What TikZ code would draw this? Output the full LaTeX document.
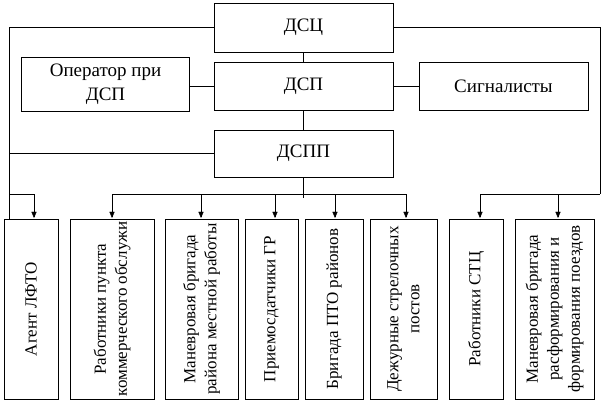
\documentclass[tikz,border=0pt]{standalone}
\usepackage{fontspec}
\setmainfont{Liberation Serif}
\usetikzlibrary{arrows,positioning,calc}

\begin{document}
\begin{tikzpicture}[x=1pt,y=-1pt,
	box/.style={draw,inner sep=0pt,font=\fontsize{19}{24}\selectfont,align=center},
	vbox/.style={draw,inner sep=0pt,rotate=90,font=\fontsize{17}{21}\selectfont,align=center,minimum width=180pt}]
		\useasboundingbox (0,0) rectangle (601,402);
		\node[box, minimum width=179pt, minimum height=49pt] (DSC) at (303.5, 27.5) {ДСЦ};
		\node[box, minimum width=179pt, minimum height=48pt] (DSP) at (303.5, 86) {ДСП};
		\node[box, minimum width=168pt, minimum height=54pt] (OP) at (105.5, 84) {Оператор при\\ДСП};
		\node[box, minimum width=169pt, minimum height=48pt] (SIG) at (503.5, 86) {Сигналисты};
		\node[box, minimum width=179pt, minimum height=47pt] (DSPP) at (303.5, 153.5) {ДСПП};

		\node[vbox, minimum height=54pt] (A1) at (31, 309) {Агент ЛФТО};
		\node[vbox, minimum height=84pt] (A2) at (112, 309) {Работники пункта\\коммерческого обслужи};
		\node[vbox, minimum height=73pt] (A3) at (201.5, 309) {Маневровая бригада\\района местной работы};
		\node[vbox, minimum height=53pt] (A4) at (271.5, 309) {Приемосдатчики ГР};
		\node[vbox, minimum height=58pt] (A5) at (334, 309) {Бригада ПТО районов};
		\node[vbox, minimum height=67pt] (A6) at (403.5, 309) {Дежурные стрелочных\\постов};
		\node[vbox, minimum height=54pt] (A7) at (476, 309) {Работники СТЦ};
		\node[vbox, minimum height=79pt] (A8) at (554.5, 309) {Маневровая бригада\\расформирования и\\формирования поездов};

		\coordinate (L) at (9, 194);
		\coordinate (R) at (600, 194);
		\coordinate (B) at (303.5, 198);

		\draw (DSC) -- (DSP);
		\draw (DSP) -- (DSPP);
		\draw (DSP.west) -- (DSP.west -| OP.east);
		\draw (SIG) -- (DSP);
		\draw (DSC.west) -| (9, 219);
		\draw (DSPP.west) -- (DSPP.west -| L);
		\draw (DSC.east) -| (R);
		\draw (DSPP.south) -- (B);
		\draw[-triangle 45] (L) -| (34, 218);
		\draw (112, 194) -- (406, 194);
		\draw (480, 194) -- (R);
		\foreach \n/\x in {A2/112, A3/201, A4/275, A5/335, A6/406, A7/480, A8/558}
			\draw[-triangle 45] (\x, 194) -- (\x, 218);
	\end{tikzpicture}
\end{document}
